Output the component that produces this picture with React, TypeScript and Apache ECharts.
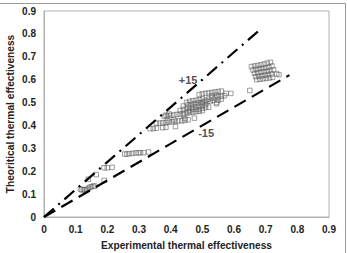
import React, { useEffect, useRef } from "react";
import * as echarts from "echarts";

// Axis ticks (shared by both axes)
const axisTicks = [0, 0.1, 0.2, 0.3, 0.4, 0.5, 0.6, 0.7, 0.8, 0.9];

// Measured pairs [experimental, theoretical]
const lowRange: number[][] = [
  [0.115, 0.122], [0.12, 0.118], [0.125, 0.12], [0.13, 0.118], [0.135, 0.12],
  [0.14, 0.125], [0.145, 0.13], [0.15, 0.132], [0.155, 0.135], [0.16, 0.135],
  [0.14, 0.165], [0.165, 0.185], [0.19, 0.16],
  [0.19, 0.215], [0.2, 0.215], [0.215, 0.217],
];

const midRange: number[][] = [
  [0.255, 0.275], [0.262, 0.275], [0.27, 0.277], [0.28, 0.278], [0.29, 0.28],
  [0.298, 0.28], [0.305, 0.281], [0.315, 0.281], [0.33, 0.284],
  [0.335, 0.386], [0.345, 0.386], [0.355, 0.388], [0.375, 0.39], [0.385, 0.392],
  [0.415, 0.395], [0.445, 0.43], [0.475, 0.432],
  [0.355, 0.41], [0.365, 0.41], [0.375, 0.412], [0.385, 0.413], [0.395, 0.414],
  [0.405, 0.416], [0.415, 0.418], [0.425, 0.42], [0.435, 0.42], [0.445, 0.422],
  [0.455, 0.425], [0.39, 0.42], [0.41, 0.424],
  [0.38, 0.44], [0.39, 0.442], [0.4, 0.444], [0.41, 0.446], [0.42, 0.448],
  [0.43, 0.45], [0.44, 0.452], [0.45, 0.454], [0.46, 0.456], [0.47, 0.458],
  [0.48, 0.46], [0.49, 0.462], [0.5, 0.465], [0.385, 0.445], [0.395, 0.45],
  [0.44, 0.445], [0.455, 0.46],
];

const upperRange: number[][] = [
  [0.43, 0.465], [0.44, 0.47], [0.45, 0.475], [0.46, 0.478], [0.47, 0.48],
  [0.48, 0.482], [0.49, 0.485], [0.5, 0.488], [0.51, 0.49], [0.455, 0.49],
  [0.465, 0.492], [0.475, 0.495], [0.485, 0.498], [0.495, 0.5], [0.505, 0.502],
  [0.515, 0.505], [0.46, 0.505], [0.47, 0.508], [0.48, 0.51], [0.49, 0.512],
  [0.5, 0.515], [0.44, 0.485], [0.45, 0.5], [0.47, 0.47], [0.48, 0.47],
  [0.5, 0.475], [0.51, 0.478], [0.52, 0.48], [0.46, 0.465], [0.49, 0.47],
  [0.5, 0.5], [0.51, 0.51],
  [0.52, 0.515], [0.53, 0.52], [0.54, 0.522], [0.55, 0.525], [0.56, 0.527],
  [0.57, 0.53], [0.525, 0.505], [0.535, 0.51], [0.545, 0.5], [0.545, 0.495],
  [0.55, 0.51], [0.56, 0.515],
  [0.49, 0.535], [0.5, 0.538], [0.51, 0.54], [0.52, 0.542], [0.53, 0.544],
  [0.54, 0.546], [0.55, 0.548], [0.56, 0.55], [0.575, 0.54], [0.59, 0.54],
  [0.53, 0.53], [0.545, 0.533],
];

const highRange: number[][] = [
  [0.65, 0.553],
  [0.655, 0.657], [0.665, 0.66], [0.675, 0.662], [0.685, 0.665], [0.695, 0.668],
  [0.705, 0.672], [0.715, 0.676],
  [0.66, 0.642], [0.67, 0.645], [0.68, 0.648], [0.69, 0.65], [0.7, 0.652],
  [0.71, 0.655], [0.72, 0.66],
  [0.665, 0.628], [0.675, 0.63], [0.685, 0.633], [0.695, 0.635], [0.705, 0.637],
  [0.715, 0.64], [0.725, 0.643],
  [0.668, 0.613], [0.678, 0.615], [0.688, 0.617], [0.698, 0.62], [0.708, 0.622],
  [0.718, 0.625], [0.735, 0.625],
  [0.672, 0.6], [0.682, 0.602], [0.692, 0.604], [0.702, 0.606], [0.712, 0.608],
  [0.722, 0.61], [0.742, 0.622],
];

// Error band lines (+15 / -15)
const upperBound: number[][] = [[0, 0], [0.68, 0.816]];
const lowerBound: number[][] = [[0, 0], [0.775, 0.62]];

// Band labels and where they sit
const bandLabels = ["+15", "-15"];
const bandLabelPos: number[][] = [[0.455, 0.6], [0.512, 0.367]];

const FONT = "'Liberation Sans', Arial, sans-serif";

export default function App() {
  const ref = useRef<HTMLDivElement>(null);

  useEffect(() => {
    if (!ref.current) return;
    const chart = echarts.init(ref.current, undefined, { renderer: "svg" });
    const points = [...lowRange, ...midRange, ...upperRange, ...highRange];

    const axisCommon = {
      type: "value" as const,
      min: axisTicks[0],
      max: axisTicks[axisTicks.length - 1],
      interval: 0.1,
      nameLocation: "middle" as const,
      nameMoveOverlap: false,
      nameTextStyle: { fontFamily: FONT, fontWeight: "bold", fontSize: 10.2, color: "#222" },
      axisLine: { show: true, lineStyle: { color: "#b0b0b0", width: 1 } },
      axisTick: { show: false },
      splitLine: { show: false },
      axisLabel: {
        fontFamily: FONT,
        fontWeight: "bold",
        fontSize: 10,
        color: "#222",
        formatter: (v: number) => String(Math.round(v * 10) / 10),
      },
    };

    chart.setOption({
      animation: false,
      backgroundColor: "#fff",
      grid: {
        left: 44,
        right: 18,
        top: 11,
        bottom: 36,
        containLabel: false,
        outerBoundsMode: "none",
        show: true,
        borderColor: "#b0b0b0",
        borderWidth: 1,
      },
      xAxis: {
        ...axisCommon,
        name: "Experimental thermal effectiveness",
        nameGap: 23,
        axisLabel: { ...axisCommon.axisLabel, margin: 7 },
      },
      yAxis: {
        ...axisCommon,
        name: "Theoritical thermal effectiveness",
        nameGap: 29,
        axisLabel: { ...axisCommon.axisLabel, margin: 8 },
      },
      graphic: [
        { type: "line", shape: { x1: 0, y1: 3.5, x2: 345.5, y2: 3.5 }, style: { stroke: "#9a9a9a", lineWidth: 1 } },
        { type: "line", shape: { x1: 345.5, y1: 3.5, x2: 345.5, y2: 253 }, style: { stroke: "#9a9a9a", lineWidth: 1 } },
      ],
      series: [
        {
          type: "line",
          data: upperBound,
          symbol: "none",
          lineStyle: { color: "#000", width: 2.2, type: [13, 6, 2, 6] },
          z: 3,
        },
        {
          type: "line",
          data: lowerBound,
          symbol: "none",
          lineStyle: { color: "#000", width: 2.2, type: [13, 7] },
          z: 3,
        },
        {
          type: "scatter",
          data: points,
          symbol: "rect",
          symbolSize: 4.5,
          itemStyle: { color: "rgba(255,255,255,0)", borderColor: "#666", borderWidth: 0.8 },
          z: 2,
        },
        {
          type: "scatter",
          data: bandLabelPos.map((p, i) => ({ value: p, name: bandLabels[i] })),
          symbolSize: 0,
          label: {
            show: true,
            position: "inside",
            formatter: (p: any) => p.name,
            fontFamily: FONT,
            fontWeight: "bold",
            fontSize: 11,
            color: "#222",
          },
          z: 4,
        },
      ],
    });

    return () => chart.dispose();
  }, []);

  return <div ref={ref} style={{ width: 347, height: 253, position: "absolute", left: 0, top: 0 }} />;
}
